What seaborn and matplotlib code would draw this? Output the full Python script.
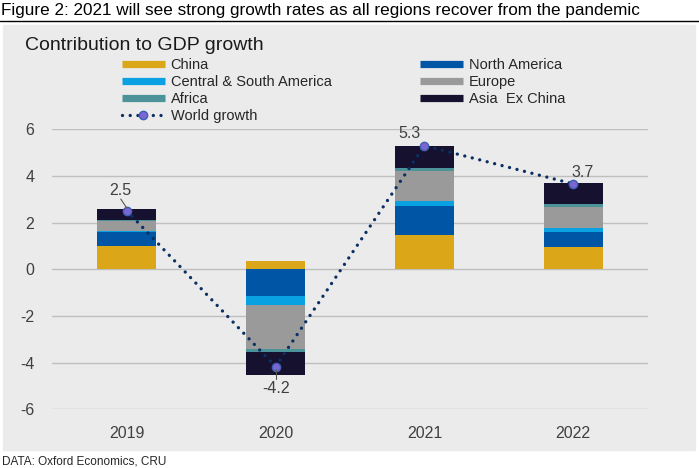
import numpy as np
import pandas as pd
import seaborn as sns
import matplotlib.pyplot as plt
from matplotlib.patches import Rectangle
from matplotlib.lines import Line2D

# Contribution to GDP growth by region (percentage points)
years = ['2019', '2020', '2021', '2022']
china = [1.00, 0.37, 1.46, 0.94]
north_america = [0.61, -1.14, 1.25, 0.65]
central_south_america = [0.02, -0.39, 0.23, 0.19]
europe = [0.42, -1.89, 1.27, 0.88]
africa = [0.05, -0.11, 0.12, 0.15]
asia_ex_china = [0.49, -1.01, 0.97, 0.88]
world_growth = [2.51, -4.17, 5.30, 3.66]
world_labels = ['2.5', '-4.2', '5.3', '3.7']

regions = ['China', 'North America', 'Central & South America', 'Europe', 'Africa', 'Asia  Ex China']
region_values = [china, north_america, central_south_america, europe, africa, asia_ex_china]
colors = ['#DBA618', '#0055A5', '#0AA1E2', '#9A9A9A', '#4B9399', '#15112E']

sns.set_theme(style='white')
plt.rcParams['font.family'] = ['Liberation Sans', 'DejaVu Sans']
plt.rcParams['axes.unicode_minus'] = False

fig = plt.figure(figsize=(6.99, 4.68), dpi=100)
fig.patch.set_facecolor('white')
# grey panel behind the chart
fig.patches.append(Rectangle((3 / 699, 1 - 450 / 468), 692 / 699, 425 / 468,
                             transform=fig.transFigure, color='#EBEBEB', zorder=-5))
fig.add_artist(Line2D([0, 1], [1 - 21 / 468, 1 - 21 / 468], color='black', lw=1))

ax = fig.add_axes([52.3 / 699, 1 - 409.3 / 468, 595.4 / 699, 280 / 468])
ax.set_facecolor('none')
ax.set_zorder(2)

# stack positives upward and negatives downward
pos_base = np.zeros(len(years))
neg_base = np.zeros(len(years))
for name, vals, col in zip(regions, region_values, colors):
    vals = np.array(vals)
    bottoms = np.where(vals >= 0, pos_base, neg_base)
    sns.barplot(x=years, y=vals, bottom=bottoms, color=col, width=0.4,
                saturation=1, ax=ax, zorder=2, edgecolor='none', linewidth=0)
    pos_base = pos_base + np.where(vals >= 0, vals, 0)
    neg_base = neg_base + np.where(vals < 0, vals, 0)

xpos = np.arange(len(years))
ax.plot(xpos, world_growth, color='#0B2F63', lw=2.4, linestyle=(0, (0.01, 2.3)),
        dash_capstyle='round', zorder=4)
ax.plot(xpos, world_growth, linestyle='none', marker='o', markersize=6,
        markerfacecolor='#7B66D6', markeredgecolor='#3F5FB0', markeredgewidth=1, zorder=5)

# data labels
label_offsets = [(-0.04, 0.85), (0.0, -0.95), (-0.1, 0.5), (0.06, 0.47)]
for i, (lab, (dx, dy)) in enumerate(zip(world_labels, label_offsets)):
    ax.text(i + dx, world_growth[i] + dy, lab, ha='center', va='center',
            fontsize=11.5, color='#404040', zorder=6)
ax.plot([-0.04, 0.0], [world_growth[0] + 0.5, world_growth[0] + 0.12], color='#555555', lw=0.8, zorder=6)
ax.plot([1.0, 1.0], [world_growth[1] - 0.12, world_growth[1] - 0.55], color='#555555', lw=0.8, zorder=6)

ax.set_ylim(-6, 6)
ax.set_xlim(-0.5, 3.5)
ax.set_yticks([-6, -4, -2, 0, 2, 4, 6])
ax.yaxis.grid(True, color='#BFBFBF', lw=1)
ax.set_axisbelow(True)
for s in ax.spines.values():
    s.set_visible(False)
ax.tick_params(axis='both', length=0, labelsize=11.5, labelcolor='#404040')
ax.tick_params(axis='x', pad=12)
ax.tick_params(axis='y', pad=13)
ax.set_xlabel('')
ax.set_ylabel('')

# legend, filled column by column
handles = [Line2D([], [], color=c, lw=5.2, solid_capstyle='butt') for c in colors]
world_handle = Line2D([], [], color='#0B2F63', lw=2.4, linestyle=(0, (0.01, 2.3)),
                      dash_capstyle='round', marker='o', markersize=6,
                      markerfacecolor='#7B66D6', markeredgecolor='#3F5FB0')
leg_handles = [handles[0], handles[2], handles[4], world_handle, handles[1], handles[3], handles[5]]
leg_labels = [regions[0], regions[2], regions[4], 'World growth', regions[1], regions[3], regions[5]]
fig.legend(leg_handles, leg_labels, loc='upper left', bbox_to_anchor=(121.7 / 699, 1 - 58 / 468),
           ncol=2, frameon=False, fontsize=10.5, handlelength=2.95, handletextpad=0.4,
           columnspacing=6.1, labelspacing=0.2, borderpad=0, borderaxespad=0,
           numpoints=1, labelcolor='#262626')

fig.text(25 / 699, 1 - 45 / 468, 'Contribution to GDP growth', fontsize=14,
         ha='left', va='center', color='#1a1a1a')
fig.text(1 / 699, 1 - 10 / 468,
         'Figure 2: 2021 will see strong growth rates as all regions recover from the pandemic',
         fontsize=12.3, ha='left', va='center', color='black')
fig.text(2 / 699, 1 - 461 / 468, 'DATA: Oxford Economics, CRU', fontsize=8.5,
         ha='left', va='center', color='#262626')

fig.savefig('out.png', dpi=100)
